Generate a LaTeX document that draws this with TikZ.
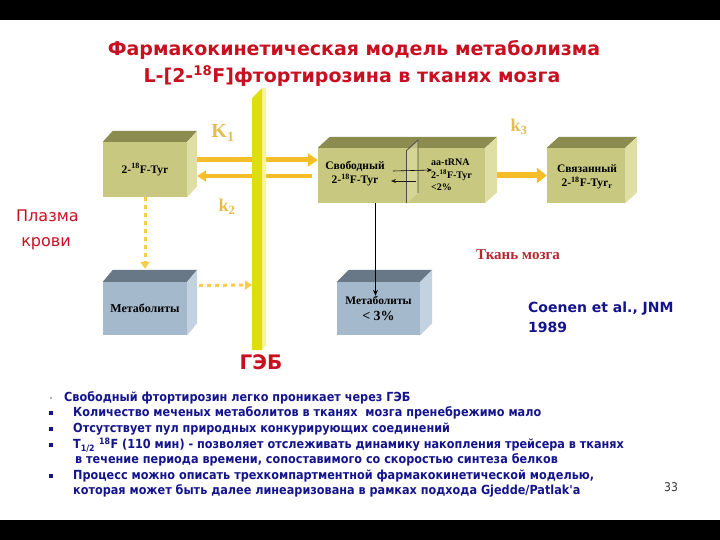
\documentclass[tikz,border=0pt]{standalone}
\usepackage{fontspec}
\setmainfont{Liberation Serif}
\newfontfamily\titlefont{DejaVu Sans}
\newfontfamily\bulfont{DejaVu Sans Condensed}
\usetikzlibrary{arrows.meta}
\definecolor{titlered}{RGB}{200,16,32}
\definecolor{barfront}{RGB}{222,222,10}
\definecolor{barside}{RGB}{245,245,150}
\definecolor{arrowor}{RGB}{245,190,40}
\definecolor{dashor}{RGB}{250,205,70}
\definecolor{klabel}{RGB}{228,188,80}
\definecolor{olivefront}{RGB}{200,200,128}
\definecolor{olivetop}{RGB}{140,140,80}
\definecolor{oliveside}{RGB}{222,222,165}
\definecolor{bluefront}{RGB}{165,185,205}
\definecolor{bluetop}{RGB}{105,120,135}
\definecolor{blueside}{RGB}{195,210,225}
\definecolor{navy}{RGB}{20,20,140}
\definecolor{brainred}{RGB}{180,40,50}
\newcommand\cubefaces[5]{%
  \fill[#4] (#1.north west) -- ++(#2,-#3) -- ([shift={(#2,-#3)}]#1.north east) -- (#1.north east) -- cycle;
  \fill[#5] (#1.north east) -- ++(#2,-#3) -- ([shift={(#2,-#3)}]#1.south east) -- (#1.south east) -- cycle;
}
\tikzset{
  titletext/.style={font=\titlefont\bfseries\fontsize{19}{20}\selectfont, text=titlered, inner sep=0pt},
  olivebox/.style={fill=olivefront, inner sep=0pt, font=\bfseries\fontsize{11.5}{13}\selectfont},
  bluebox/.style={fill=bluefront, inner sep=0pt, font=\bfseries\fontsize{12}{13}\selectfont},
  boxtext/.style={inner sep=0pt, font=\bfseries\fontsize{11.5}{14}\selectfont, align=center},
  klab/.style={inner sep=0pt, text=klabel, font=\bfseries\fontsize{20}{20}\selectfont},
  bigarrow/.style={draw=arrowor, line width=5pt, -{Triangle[length=10pt,width=13pt]}},
  dasharrow/.style={draw=dashor, line width=3pt, dash pattern=on 4pt off 4pt, -{Triangle[length=7pt,width=9pt]}},
  bultext/.style={anchor=west, inner sep=0pt, text=navy, font=\bulfont\bfseries\fontsize{12.5}{13}\selectfont},
  bulmark/.style={fill=navy, minimum width=3.5pt, minimum height=4pt, inner sep=0pt},
}
\begin{document}
\begin{tikzpicture}[x=1pt,y=-1pt]
\useasboundingbox (0,0) rectangle (720,540);
\fill[white] (0,0) rectangle (720,540);
\fill[black] (0,0) rectangle (720,20);
\fill[black] (0,520) rectangle (720,540);

% title
\node[titletext] (t1) at (354,50) {Фармакокинетическая модель метаболизма};
\node[titletext] (t2) at (352,76) {L-[2-\textsuperscript{18}F]фтортирозина в тканях мозга};

% boxes
\node[olivebox, minimum width=84pt, minimum height=55pt] (b1) at (145,169.5) {2-\textsuperscript{18}F-Tyr};
\cubefaces{b1}{10}{11}{olivetop}{oliveside}
\node[olivebox, minimum width=167pt, minimum height=55pt] (b2) at (401.5,175.5) {};
\cubefaces{b2}{12}{11}{olivetop}{oliveside}
\node[olivebox, minimum width=78pt, minimum height=55pt] (b3) at (586,175.5) {};
\cubefaces{b3}{12}{11}{olivetop}{oliveside}
\node[boxtext] (b3t) at (587,177) {Связанный\\2-\textsuperscript{18}F-Tyr\textsubscript{r}};
\node[bluebox, minimum width=84pt, minimum height=53pt] (b4) at (145,308.5) {Метаболиты};
\cubefaces{b4}{10}{12}{bluetop}{blueside}
\node[bluebox, minimum width=83pt, minimum height=53pt] (b5) at (378.5,308.5) {};
\cubefaces{b5}{12}{12}{bluetop}{blueside}
\node[boxtext, font=\bfseries\fontsize{11.5}{16}\selectfont] (b5t) at (378.5,308) {Метаболиты\\{\fontsize{14}{16}\selectfont \textless\ 3\%}};

% box 2 interior
\fill[oliveside, opacity=0.6] (406,151) -- (418,140) -- (418,193) -- (406,204) -- cycle;
\draw[black!70, line width=0.8pt] (406,151) -- (418,140) -- (418,193);
\draw[black!70, line width=0.8pt] (406,151) -- (406,203);
\node[boxtext] (fr) at (355,174) {Свободный\\2-\textsuperscript{18}F-Tyr};
\node[boxtext, align=left, anchor=west, font=\bfseries\fontsize{10}{12.5}\selectfont] (tr) at (431,175) {aa-tRNA\\2-\textsuperscript{18}F-Tyr\\\textless 2\%};
\coordinate (a1s) at (393,171);
\coordinate (a1e) at (432,170);
\coordinate (a2s) at (416,181);
\coordinate (a2e) at (391,181);
\draw[-{Stealth[length=5pt,width=4pt]}, line width=0.6pt] (a1s) -- (a1e);
\draw[-{Stealth[length=5pt,width=4pt]}, line width=0.6pt, draw=black!80!olivetop] (a2s) -- (a2e);

% arrows across barrier
\draw[bigarrow] ([shift={(10,-9.5)}]b1.east) -- ([shift={(0,-15.5)}]b2.west);
\draw[draw=arrowor, line width=4pt, -{Triangle[length=9pt,width=11pt]}] ([shift={(-6,0.5)}]b2.west) -- ([shift={(10,6.5)}]b1.east);
\draw[draw=arrowor, line width=6pt, -{Triangle[length=10pt,width=15pt]}] ([xshift=12pt]b2.east) -- (b3.west);

% barrier
\fill[barside] (262,88) -- (266,88) -- (266,345) -- (262,350) -- cycle;
\fill[barfront] (252,98) -- (262,88) -- (262,350) -- (252,350) -- cycle;
\coordinate (bar) at (252,285);

% dashed arrows
\draw[dasharrow] (b1.south) -- ([yshift=13pt]b4.north);
\draw[dasharrow] ([shift={(12,-23)}]b4.east) -- (bar);
\draw[-{Stealth[length=6pt,width=5pt]}, line width=1pt] ([xshift=-26pt]b2.south) -- ([shift={(-3,14)}]b5.north);

% k labels
\node[klab] (K1) at (223,133) {K\textsubscript{1}};
\node[klab, font=\bfseries\fontsize{18}{18}\selectfont] (k2) at (227,207) {k\textsubscript{2}};
\node[klab, font=\bfseries\fontsize{18}{18}\selectfont] (k3) at (519,127) {k\textsubscript{3}};

% side labels
\node[inner sep=0pt, text=titlered, font=\titlefont\fontsize{16}{26}\selectfont, align=left, anchor=north west] (pl) at (16,210) {Плазма\\[-1pt] \ крови};
\node[inner sep=0pt, text=brainred, font=\bfseries\fontsize{15}{16}\selectfont] (tk) at (518,255) {Ткань мозга};
\node[inner sep=0pt, text=titlered, font=\titlefont\bfseries\fontsize{20}{20}\selectfont] (geb) at (261,362) {ГЭБ};
\node[inner sep=0pt, text=navy, font=\titlefont\bfseries\fontsize{14}{19.5}\selectfont, align=left, anchor=north west] (co) at (528,302) {Coenen et al., JNM\\1989};

% bullets
\node[bultext] (l1) at (64,398) {Свободный фтортирозин легко проникает через ГЭБ};
\node[bultext] (l2) at (73,413) {Количество меченых метаболитов в тканях\ \ мозга пренебрежимо мало};
\node[bultext] (l3) at (73,429) {Отсутствует пул природных конкурирующих соединений};
\node[bultext] (l4) at (73,445) {T\textsubscript{1/2} \textsuperscript{18}F (110 мин) - позволяет отслеживать динамику накопления трейсера в тканях};
\node[bultext] (l5) at (75,460) {в течение периода времени, сопоставимого со скоростью синтеза белков};
\node[bultext] (l6) at (73,476) {Процесс можно описать трехкомпартментной фармакокинетической моделью,};
\node[bultext] (l7) at (73,491) {которая может быть далее линеаризована в рамках подхода Gjedde/Patlak'a};
\node[bulmark, fill=gray!60, minimum width=2.5pt, minimum height=2.5pt] (m1) at (51,398) {};
\node[bulmark] (m2) at (51,412.5) {};
\node[bulmark] (m3) at (51,428.5) {};
\node[bulmark] (m4) at (51,444.5) {};
\node[bulmark] (m6) at (51,475.5) {};
\node[inner sep=0pt, text=black!80, font=\bulfont\fontsize{12}{12}\selectfont] (pg) at (671,487) {33};
\end{tikzpicture}
\end{document}
